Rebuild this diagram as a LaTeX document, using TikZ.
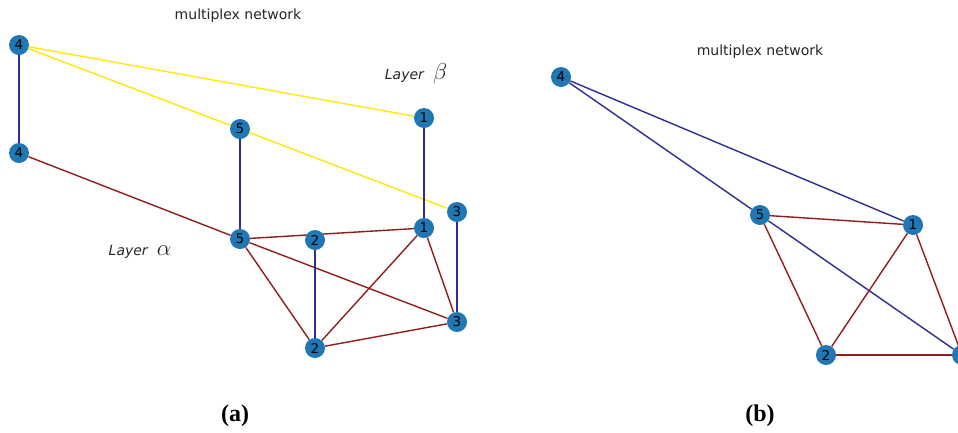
\documentclass[tikz,border=0pt]{standalone}
\usepackage{fontspec}
\usepackage{graphicx}
\setmainfont{DejaVu Sans}
\newfontfamily\capfont{Liberation Serif}
\usetikzlibrary{positioning}
\definecolor{nodeblue}{RGB}{31,119,180}
\definecolor{interblue}{RGB}{45,45,150}
\definecolor{alphared}{RGB}{145,30,30}
\definecolor{betayellow}{RGB}{255,232,10}

\begin{document}
\begin{tikzpicture}
    [x=1pt, y=-1pt,
    vertex/.style={circle, fill=nodeblue, minimum size=20pt, inner sep=0pt, font=\fontsize{13.5}{13.5}\selectfont},
    inter/.style={interblue, line width=1.4pt},
    alpha/.style={alphared, line width=1.4pt},
    beta/.style={betayellow, line width=1.4pt},
    title/.style={font=\fontsize{14}{14}\selectfont, text=black!85},
    caption/.style={font=\capfont\bfseries\fontsize{24}{24}\selectfont}]
     \clip (0,0) rectangle (958,432);
     \fill[white] (0,0) rectangle (958,432);
     % (a) two layers
     \node[title] (ta) at (238, 16) {multiplex network};
     \node[title] (lb) at (416, 74) {\textit{Layer}\; \scalebox{1.6}{$\beta$}};
     \node[title] (la) at (140, 252) {\textit{Layer}\; \scalebox{1.6}{$\alpha$}};
     \node[vertex] (b4) at (19, 45)   {4};
     \node[vertex] (b5) at (240, 129) {5};
     \node[vertex] (b1) at (424, 118) {1};
     \node[vertex] (b3) at (457, 212) {3};
     \node[vertex] (a4) at (19, 153)  {4};
     \node[vertex] (a5) at (240, 239) {5};
     \node[vertex] (a1) at (424, 228) {1};
     \node[vertex] (a3) at (457, 322) {3};
     \node[vertex] (a2) at (315, 348) {2};
     \draw[beta] (b4) -- (b1);
     \draw[beta] (b4) -- (b5);
     \draw[beta] (b5) -- (b3);
     \draw[inter] (b4) -- (a4);
     \draw[inter] (b5) -- (a5);
     \draw[inter] (b1) -- (a1);
     \draw[inter] (b3) -- (a3);
     \draw[alpha] (a4) -- (a5);
     \draw[alpha] (a5) -- (a1);
     \draw[alpha] (a5) -- (a2);
     \draw[alpha] (a5) -- (a3);
     \draw[alpha] (a1) -- (a2);
     \draw[alpha] (a1) -- (a3);
     \draw[alpha] (a2) -- (a3);
     % node 2 sits over the 5--1 edge
     \node[vertex] (b2) at (315, 240) {2};
     \draw[inter] (b2) -- (a2);
     \node[caption] (capa) at (235, 416) {(a)};
     % (b) aggregated
     \node[title] (tb) at (760, 52) {multiplex network};
     \node[vertex] (m4) at (561, 77)  {4};
     \node[vertex] (m5) at (760, 215) {5};
     \node[vertex] (m1) at (913, 225) {1};
     \node[vertex] (m2) at (826, 355) {2};
     \node[vertex] (m3) at (962, 355) {3};
     \draw[inter] (m4) -- (m5);
     \draw[inter] (m4) -- (m1);
     \draw[inter] (m5) -- (m3);
     \draw[alpha] (m5) -- (m1);
     \draw[alpha] (m5) -- (m2);
     \draw[alpha] (m1) -- (m2);
     \draw[alpha] (m1) -- (m3);
     \draw[alpha] (m2) -- (m3);
     \node[caption] (capb) at (760, 416) {(b)};
\end{tikzpicture}
\end{document}
